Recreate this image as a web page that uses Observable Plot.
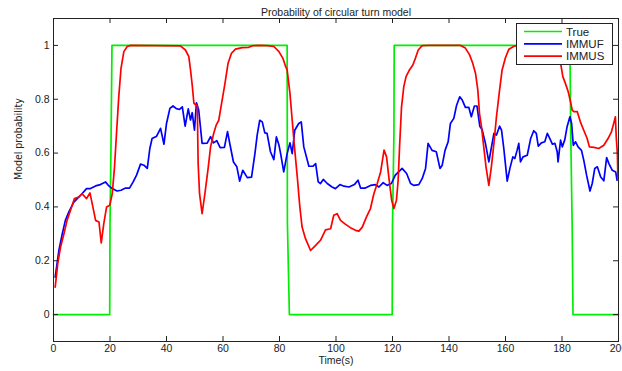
<!DOCTYPE html>
<html>
<head>
<meta charset="utf-8">
<script src="https://cdn.jsdelivr.net/npm/d3@7"></script>
<script src="https://cdn.jsdelivr.net/npm/@observablehq/plot@0.6"></script>
<style>
  body { margin: 0; background: #fff; }
  #wrap { position: relative; width: 622px; height: 371px; overflow: hidden; background: #fff; }
  #legend { position: absolute; left: 516px; top: 23px; }
</style>
</head>
<body>
<div id="wrap"></div>
<script>
// ---- data ----
const title = "Probability of circular turn model";
const xLabel = "Time(s)";
const yLabel = "Model probability";
const xTicks = [0, 20, 40, 60, 80, 100, 120, 140, 160, 180, 200];
const yTicks = [0, 0.2, 0.4, 0.6, 0.8, 1];
const seriesNames = ["True", "IMMUF", "IMMUS"];
const seriesColors = ["#00ee00", "#0000ff", "#ff0000"];

const trueT = [0, 19.9, 20.0, 20.4, 20.7, 82.7, 82.8, 83.5, 119.9, 120.0, 120.5, 120.6, 182.8, 183.1, 183.6, 183.9, 200];
const trueP = [0, 0, 0.33, 0.67, 1, 1, 0.34, 0, 0, 0.33, 0.67, 1, 1, 0.67, 0.33, 0, 0];

const immufT = [0.6, 1.9, 3.1, 4.2, 5.4, 7.2, 8.4, 10.1, 11.7, 13.1, 14.9, 16.6, 18.4, 19.6, 20.8, 22.5, 23.9, 25.5, 26.9, 28.2, 29.4, 30.8, 32.0, 33.2, 34.1, 34.9, 36.5, 37.9, 39.1, 40.0, 41.2, 42.3, 43.5, 44.6, 45.6, 46.6, 47.7, 48.5, 49.1, 49.9, 50.6, 51.4, 52.0, 52.6, 54.4, 55.6, 56.6, 57.8, 59.0, 60.5, 61.6, 62.5, 63.7, 64.9, 65.9, 67.0, 68.6, 70.1, 71.3, 72.1, 73.0, 73.9, 74.8, 75.6, 76.8, 78.0, 78.9, 79.8, 80.4, 81.5, 82.7, 83.7, 84.5, 85.4, 86.8, 87.7, 88.6, 90.4, 91.8, 92.8, 93.7, 94.5, 95.5, 96.9, 98.6, 99.8, 101.4, 102.8, 104.6, 106.5, 107.8, 108.7, 110.4, 112.2, 114.0, 115.2, 116.7, 118.1, 119.6, 121.0, 123.4, 125.0, 126.4, 127.6, 129.3, 130.5, 131.7, 132.6, 134.0, 135.5, 136.8, 137.6, 138.6, 139.7, 140.5, 141.7, 142.7, 143.8, 144.7, 145.8, 147.0, 147.9, 149.0, 149.9, 150.9, 151.7, 152.9, 154.1, 155.9, 156.8, 157.9, 158.6, 159.4, 160.6, 161.6, 162.6, 163.3, 164.1, 164.7, 165.3, 166.2, 167.7, 168.9, 170.0, 170.9, 171.6, 172.7, 173.9, 174.8, 175.7, 176.6, 177.5, 178.3, 178.6, 179.5, 180.1, 181.0, 181.8, 182.8, 183.4, 184.0, 184.8, 185.7, 186.9, 187.7, 188.7, 189.9, 190.7, 191.6, 192.5, 193.7, 194.8, 195.8, 196.6, 197.8, 199.0, 199.5];
const immufP = [0.139, 0.238, 0.30, 0.35, 0.381, 0.418, 0.431, 0.449, 0.468, 0.468, 0.478, 0.483, 0.493, 0.478, 0.468, 0.459, 0.462, 0.47, 0.47, 0.493, 0.518, 0.559, 0.555, 0.543, 0.617, 0.654, 0.663, 0.692, 0.633, 0.71, 0.766, 0.775, 0.765, 0.762, 0.772, 0.70, 0.764, 0.723, 0.75, 0.685, 0.787, 0.76, 0.698, 0.636, 0.637, 0.661, 0.638, 0.646, 0.62, 0.621, 0.68, 0.63, 0.567, 0.549, 0.496, 0.536, 0.509, 0.511, 0.598, 0.667, 0.722, 0.716, 0.675, 0.673, 0.605, 0.576, 0.66, 0.63, 0.598, 0.53, 0.598, 0.638, 0.598, 0.685, 0.71, 0.716, 0.623, 0.551, 0.551, 0.561, 0.493, 0.487, 0.502, 0.487, 0.474, 0.468, 0.483, 0.477, 0.474, 0.483, 0.499, 0.47, 0.47, 0.48, 0.483, 0.474, 0.49, 0.48, 0.487, 0.518, 0.543, 0.524, 0.487, 0.48, 0.483, 0.505, 0.543, 0.636, 0.61, 0.605, 0.543, 0.555, 0.61, 0.642, 0.71, 0.729, 0.778, 0.809, 0.797, 0.77, 0.77, 0.735, 0.775, 0.775, 0.70, 0.688, 0.636, 0.567, 0.673, 0.667, 0.70, 0.685, 0.617, 0.496, 0.545, 0.586, 0.58, 0.61, 0.636, 0.567, 0.586, 0.592, 0.654, 0.683, 0.673, 0.626, 0.638, 0.642, 0.673, 0.654, 0.633, 0.636, 0.605, 0.567, 0.648, 0.623, 0.65, 0.698, 0.735, 0.71, 0.629, 0.642, 0.623, 0.61, 0.574, 0.518, 0.459, 0.487, 0.543, 0.549, 0.511, 0.497, 0.583, 0.561, 0.536, 0.53, 0.499];

const immusT = [0.6, 1.5, 2.5, 3.7, 4.8, 6.0, 7.4, 9.0, 10.1, 11.7, 12.9, 13.7, 14.9, 16.1, 16.9, 17.8, 18.8, 19.9, 20.8, 21.6, 22.3, 23.1, 23.9, 24.9, 26.1, 27.3, 44.9, 46.7, 47.9, 48.5, 49.1, 49.7, 50.9, 51.2, 51.7, 52.6, 53.6, 54.8, 55.6, 56.7, 57.6, 58.5, 59.5, 60.7, 61.8, 63.0, 64.4, 66.8, 69.1, 70.5, 72.7, 75.6, 78.0, 79.8, 81.2, 82.2, 82.7, 83.7, 84.5, 85.3, 86.3, 87.2, 88.0, 89.2, 91.0, 92.8, 94.5, 96.3, 98.1, 99.2, 100.4, 101.6, 103.4, 105.1, 106.9, 108.1, 109.3, 110.8, 112.2, 113.4, 114.6, 115.8, 117.0, 117.9, 118.7, 119.7, 120.5, 121.4, 122.0, 122.5, 123.2, 124.0, 124.8, 126.0, 127.2, 128.1, 129.1, 130.5, 132.9, 144.1, 145.8, 147.3, 148.4, 149.4, 150.2, 150.8, 151.5, 152.3, 153.1, 154.1, 155.0, 155.9, 156.8, 157.9, 158.8, 160.0, 161.2, 163.0, 164.5, 174.0, 176.5, 178.2, 179.5, 180.3, 181.2, 182.2, 183.0, 183.6, 184.2, 185.4, 186.5, 187.7, 188.9, 189.7, 191.3, 193.0, 194.8, 196.3, 197.5, 198.3, 198.9, 199.2, 199.6, 199.8];
const immusP = [0.102, 0.189, 0.251, 0.30, 0.35, 0.387, 0.431, 0.437, 0.449, 0.431, 0.452, 0.412, 0.35, 0.344, 0.266, 0.338, 0.40, 0.406, 0.449, 0.549, 0.673, 0.809, 0.915, 0.977, 0.996, 1.0, 0.998, 0.983, 0.958, 0.909, 0.853, 0.785, 0.775, 0.561, 0.449, 0.375, 0.449, 0.549, 0.623, 0.673, 0.704, 0.722, 0.785, 0.859, 0.934, 0.971, 0.986, 0.992, 0.993, 0.999, 1.0, 0.999, 0.996, 0.977, 0.952, 0.921, 0.909, 0.822, 0.722, 0.623, 0.511, 0.40, 0.325, 0.282, 0.238, 0.257, 0.276, 0.315, 0.319, 0.369, 0.375, 0.35, 0.335, 0.323, 0.313, 0.31, 0.325, 0.363, 0.394, 0.449, 0.487, 0.53, 0.611, 0.586, 0.511, 0.425, 0.394, 0.425, 0.499, 0.623, 0.772, 0.847, 0.884, 0.909, 0.927, 0.952, 0.983, 0.999, 1.0, 1.0, 0.99, 0.965, 0.934, 0.896, 0.834, 0.747, 0.698, 0.623, 0.549, 0.48, 0.549, 0.636, 0.735, 0.834, 0.909, 0.955, 0.986, 0.997, 1.0, 1.0, 0.99, 0.965, 0.934, 0.884, 0.859, 0.828, 0.791, 0.76, 0.754, 0.754, 0.716, 0.685, 0.654, 0.623, 0.621, 0.617, 0.629, 0.654, 0.679, 0.71, 0.735, 0.66, 0.598, 0.499];

// ---- build ----
const rows = (t, p) => t.map((d, i) => ({t: d, p: p[i]}));
const W = 622, H = 371, mL = 53, mR = 4, mT = 18, mB = 30;
const plotW = W - mL - mR, plotH = H - mT - mB, tk = 5;
const font = "'Liberation Sans', Arial, sans-serif";
const ink = "#222";

const chart = Plot.plot({
  width: W, height: H,
  marginLeft: mL, marginRight: mR, marginTop: mT, marginBottom: mB,
  style: {fontFamily: font, fontSize: "10.5px", color: ink, background: "#fff"},
  x: {domain: [0, 200]},
  y: {domain: [-0.1, 1.1]},
  marks: [
    Plot.line(rows(trueT, trueP), {x: "t", y: "p", stroke: seriesColors[0], strokeWidth: 1.7}),
    Plot.line(rows(immufT, immufP), {x: "t", y: "p", stroke: seriesColors[1], strokeWidth: 1.7}),
    Plot.line(rows(immusT, immusP), {x: "t", y: "p", stroke: seriesColors[2], strokeWidth: 1.7}),
    Plot.frame({stroke: ink, strokeWidth: 1}),
    Plot.tickX(xTicks, {x: d => d, insetTop: plotH - tk, stroke: ink}),
    Plot.tickX(xTicks, {x: d => d, insetBottom: plotH - tk, stroke: ink}),
    Plot.tickY(yTicks, {y: d => d, insetRight: plotW - tk, stroke: ink}),
    Plot.tickY(yTicks, {y: d => d, insetLeft: plotW - tk, stroke: ink}),
    Plot.axisX(xTicks, {tickSize: 0, tickPadding: 3, label: null, tickFormat: d => String(d)}),
    Plot.axisY(yTicks, {tickSize: 0, tickPadding: 4, label: null, tickFormat: d => String(d)}),
    Plot.text([title], {text: d => d, frameAnchor: "top", dy: -10, fontSize: 10.5, fill: ink}),
    Plot.text([xLabel], {text: d => d, frameAnchor: "bottom", dy: 22.5, fontSize: 10.5, fill: ink}),
    Plot.text([yLabel], {text: d => d, frameAnchor: "left", dx: -35, rotate: -90, fontSize: 10.5, fill: ink,
      fontFamily: "'Liberation Sans Narrow', 'DejaVu Sans Condensed', Arial, sans-serif"})
  ]
});
const wrap = document.getElementById("wrap");
wrap.appendChild(chart);

// legend overlay
const lg = d3.select(wrap).append("svg").attr("id", "legend")
  .attr("width", 97).attr("height", 42)
  .style("font-family", font).style("font-size", "11.5px");
lg.append("rect").attr("x", 0.5).attr("y", 0.5).attr("width", 96).attr("height", 41)
  .attr("fill", "#fff").attr("stroke", ink);
seriesNames.forEach((name, i) => {
  const cy = 8.5 + i * 12.3;
  lg.append("line").attr("x1", 8).attr("x2", 46).attr("y1", cy).attr("y2", cy)
    .attr("stroke", seriesColors[i]).attr("stroke-width", 1.7);
  lg.append("text").attr("x", 50).attr("y", cy).attr("dy", "0.35em").attr("fill", ink).text(name);
});
</script>
</body>
</html>
